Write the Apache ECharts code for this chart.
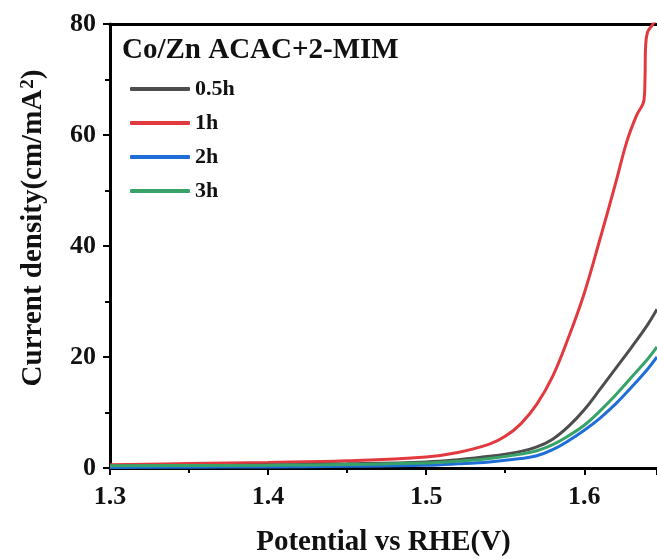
<!DOCTYPE html>
<html>
<head>
<meta charset="utf-8">
<script src="https://cdn.jsdelivr.net/npm/echarts@6/dist/echarts.min.js"></script>
<style>
  html, body { margin: 0; padding: 0; background: #fff; }
  #chart { width: 657px; height: 559px; }
</style>
</head>
<body>
<div id="chart"></div>
<script>
// 数据 - 读自参考图
const seriesNames = ['0.5h', '1h', '2h', '3h'];
const seriesColors = ['#4d4d4d', '#e2393f', '#1f6ed8', '#37a368'];

const potential = [1.30, 1.35, 1.40, 1.45, 1.50, 1.52, 1.54, 1.56, 1.57, 1.58, 1.59, 1.60, 1.61, 1.62, 1.63, 1.64, 1.646];
const curr05h = [0.3, 0.4, 0.55, 0.75, 1.1, 1.5, 2.1, 3.0, 3.8, 5.2, 7.5, 10.5, 14.2, 18.0, 21.8, 25.8, 28.6];
const curr2h = [0.1, 0.15, 0.2, 0.3, 0.5, 0.75, 1.1, 1.7, 2.2, 3.3, 4.9, 6.8, 9.0, 11.6, 14.6, 17.8, 20.0];
const curr3h = [0.4, 0.45, 0.5, 0.65, 0.9, 1.2, 1.7, 2.5, 3.1, 4.2, 5.8, 7.7, 10.3, 13.2, 16.4, 19.6, 21.8];

const potential1h = [1.30, 1.35, 1.40, 1.45, 1.50, 1.52, 1.54, 1.55, 1.56, 1.57, 1.58, 1.59, 1.60, 1.61, 1.62, 1.627, 1.633, 1.6378, 1.6384, 1.6388, 1.6400, 1.6430, 1.6460];
const curr1h = [0.6, 0.8, 1.0, 1.3, 2.0, 2.8, 4.3, 5.7, 8.0, 11.5, 16.5, 23.5, 31.5, 41.3, 51.5, 58.9, 63.5, 66.3, 70.0, 76.0, 78.5, 79.8, 81.0];

const xTicks = { min: 1.3, max: 1.646, interval: 0.1 };
const yTicks = { min: 0, max: 80, interval: 20 };

const font = "'Liberation Serif', 'Times New Roman', serif";

function pairs(xs, ys) {
  return xs.map((x, i) => [x, ys[i]]);
}

const dataList = [
  pairs(potential, curr05h),
  pairs(potential1h, curr1h),
  pairs(potential, curr2h),
  pairs(potential, curr3h)
];

const myChart = echarts.init(document.getElementById('chart'));

myChart.setOption({
  animation: false,
  title: {
    text: 'Co/Zn ACAC+2-MIM',
    left: 117,
    top: 31,
    textStyle: { fontFamily: font, fontWeight: 'bold', fontSize: 29, color: '#111' }
  },
  legend: {
    orient: 'vertical',
    left: 125,
    top: 73,
    itemWidth: 60,
    itemHeight: 4,
    itemGap: 12,
    icon: 'roundRect',
    data: seriesNames,
    textStyle: { fontFamily: font, fontWeight: 'bold', fontSize: 22, lineHeight: 20, color: '#111', padding: [0, 0, 0, 0] }
  },
  // y轴标题（带上标）
  graphic: [
    {
      type: 'text',
      x: 34,
      y: 228,
      rotation: Math.PI / 2,
      style: {
        text: 'Current density(cm/mA{sup|2})',
        fontFamily: font, fontWeight: 'bold', fontSize: 29, fill: '#111',
        align: 'center', verticalAlign: 'middle',
        rich: {
          sup: { fontFamily: font, fontWeight: 'bold', fontSize: 19, fill: '#111', verticalAlign: 'top', padding: [0, 0, 12, 1] }
        }
      }
    }
  ],
  grid: { left: 110, top: 24, right: 0, bottom: 91, outerBoundsMode: 'none' },
  xAxis: [
    {
      type: 'value',
      min: xTicks.min,
      max: xTicks.max,
      interval: xTicks.interval,
      name: 'Potential vs RHE(V)',
      nameLocation: 'middle',
      nameGap: 60,
      nameTextStyle: { fontFamily: font, fontWeight: 'bold', fontSize: 29, color: '#111' },
      axisLine: { lineStyle: { color: '#000', width: 3 } },
      axisTick: { length: 7, lineStyle: { width: 2, color: '#000' } },
      minorTick: { show: true, splitNumber: 2, length: 5, lineStyle: { width: 2, color: '#000' } },
      splitLine: { show: false },
      axisLabel: {
        showMaxLabel: false,
        margin: 16,
        fontFamily: font, fontWeight: 'bold', fontSize: 26, color: '#111',
        formatter: v => v.toFixed(1)
      }
    },
    {
      type: 'value',
      position: 'top',
      min: xTicks.min,
      max: xTicks.max,
      axisLine: { lineStyle: { color: '#000', width: 3 } },
      axisTick: { show: false },
      axisLabel: { show: false },
      splitLine: { show: false }
    }
  ],
  yAxis: {
    type: 'value',
    min: yTicks.min,
    max: yTicks.max,
    interval: yTicks.interval,
    axisLine: { show: true, lineStyle: { color: '#000', width: 3 } },
    axisTick: { show: true, length: 7, lineStyle: { width: 2, color: '#000' } },
    minorTick: { show: true, splitNumber: 2, length: 5, lineStyle: { width: 2, color: '#000' } },
    splitLine: { show: false },
    axisLabel: { margin: 14, fontFamily: font, fontWeight: 'bold', fontSize: 26, color: '#111' }
  },
  series: seriesNames.map((name, i) => ({
    name: name,
    type: 'line',
    data: dataList[i],
    showSymbol: false,
    smooth: 0.4,
    color: seriesColors[i],
    lineStyle: { width: 3 },
    z: i === 1 ? 1 : 2 + i
  }))
});
</script>
</body>
</html>
